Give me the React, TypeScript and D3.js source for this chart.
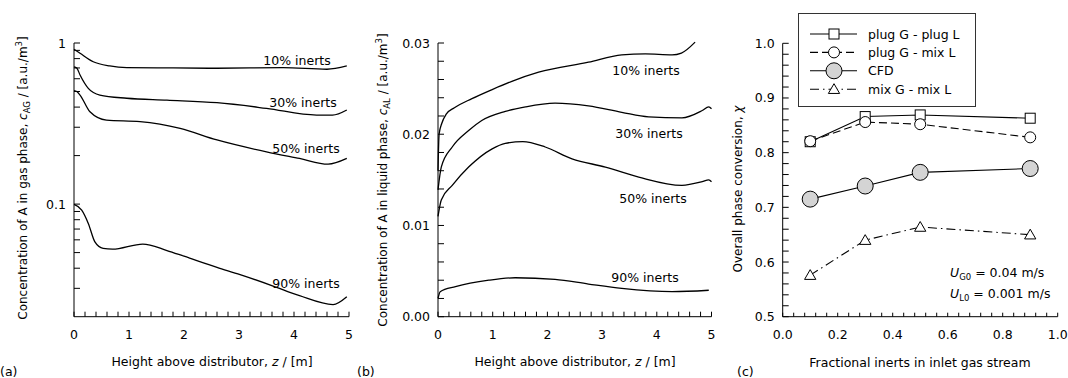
import React from 'react';
import * as d3 from 'd3';

// (a) gas phase concentration, log axis
const zGas10 = [0, 0.11, 0.35, 0.65, 0.96, 1.8, 2.6, 3.8, 4.6, 4.96];
const cGas10 = [0.914, 0.863, 0.765, 0.72, 0.703, 0.70, 0.697, 0.703, 0.687, 0.72];
const zGas30 = [0, 0.05, 0.11, 0.26, 0.47, 0.96, 1.69, 2.6, 3.5, 4.41, 4.7, 4.96];
const cGas30 = [0.712, 0.70, 0.633, 0.523, 0.475, 0.454, 0.442, 0.426, 0.393, 0.357, 0.357, 0.384];
const zGas50 = [0, 0.05, 0.11, 0.29, 0.59, 1.2, 1.93, 2.6, 3.5, 4.1, 4.62, 4.96];
const cGas50 = [0.506, 0.50, 0.475, 0.374, 0.332, 0.325, 0.295, 0.25, 0.211, 0.192, 0.177, 0.192];
const zGas90 = [0, 0.14, 0.26, 0.38, 0.53, 0.7, 1.25, 1.69, 2.0, 2.6, 3.02, 3.62, 4.1, 4.71, 4.96];
const cGas90 = [0.0995, 0.0918, 0.0759, 0.0583, 0.0531, 0.0525, 0.0565, 0.0515, 0.0475, 0.0405, 0.0365, 0.031, 0.027, 0.0238, 0.0266];

// (b) liquid phase concentration
const zLiq10 = [0, 0.02, 0.07, 0.15, 0.3, 0.62, 0.99, 1.35, 1.84, 2.75, 3.36, 3.79, 4.28, 4.45, 4.7];
const cLiq10 = [0.016, 0.020, 0.0212, 0.0222, 0.0229, 0.0239, 0.0249, 0.0258, 0.0268, 0.0279, 0.0287, 0.0288, 0.0287, 0.0289, 0.0301];
const zLiq30 = [0, 0.06, 0.26, 0.56, 0.8, 1.23, 1.6, 2.14, 2.75, 3.36, 3.85, 4.46, 4.83, 4.95, 5.0];
const cLiq30 = [0.0139, 0.0164, 0.0186, 0.0204, 0.0215, 0.0225, 0.023, 0.0234, 0.0231, 0.0224, 0.0219, 0.0218, 0.0226, 0.023, 0.0228];
const zLiq50 = [0, 0.06, 0.26, 0.56, 0.99, 1.23, 1.55, 1.96, 2.45, 3.06, 3.67, 4.46, 4.83, 4.95, 5.0];
const cLiq50 = [0.011, 0.0128, 0.0144, 0.0164, 0.0184, 0.019, 0.0192, 0.0186, 0.0173, 0.0164, 0.0153, 0.0144, 0.0148, 0.015, 0.0148];
const zLiq90 = [0, 0.04, 0.32, 0.93, 1.41, 2.14, 2.75, 3.36, 4.28, 4.95];
const cLiq90 = [0.002, 0.00274, 0.00329, 0.004, 0.00427, 0.0041, 0.00358, 0.0031, 0.00274, 0.0029];

// (c) overall conversion
const inerts = [0.1, 0.3, 0.5, 0.9];
const plugPlug = [0.820, 0.866, 0.869, 0.863];
const plugMix = [0.821, 0.856, 0.852, 0.828];
const cfd = [0.715, 0.739, 0.764, 0.771];
const mixMix = [0.576, 0.640, 0.664, 0.650];

const FONT = 'DejaVu Sans, sans-serif';
const FS = 12.5;

const zip = (xs: number[], ys: number[]) => xs.map((x, i) => [x, ys[i]] as [number, number]);

const range = (a: number, b: number, step: number) => {
  const out: number[] = [];
  const n = Math.round((b - a) / step);
  for (let i = 0; i <= n; i++) out.push(+(a + i * step).toFixed(6));
  return out;
};

function Axes({ x, y, xTicks, xLabels, yTicks, yLabels, xFmt, yFmt, xLen = 5, yLen = 6 }: any) {
  const [x0, x1] = x.range();
  const [y0, y1] = y.range();
  return (
    <g stroke="#000" strokeWidth={1} fill="none">
      <line x1={x0} x2={x1} y1={y0} y2={y0} />
      <line x1={x0} x2={x0} y1={y0} y2={y1} />
      {xTicks.map((t: number, i: number) => (
        <line key={'xt' + i} x1={x(t)} x2={x(t)} y1={y0} y2={y0 - xLen} />
      ))}
      {yTicks.map((t: number, i: number) => (
        <line key={'yt' + i} x1={x0} x2={x0 + yLen} y1={y(t)} y2={y(t)} />
      ))}
      {xLabels.map((t: number, i: number) => (
        <text key={'xl' + i} x={x(t)} y={339} textAnchor="middle" stroke="none" fill="#000"
          fontFamily={FONT} fontSize={FS}>{xFmt(t)}</text>
      ))}
      {yLabels.map((t: number, i: number) => (
        <text key={'yl' + i} x={x0 - 8} y={y(t) + 4.5} textAnchor="end" stroke="none" fill="#000"
          fontFamily={FONT} fontSize={FS}>{yFmt(t)}</text>
      ))}
    </g>
  );
}

const Label = ({ x, y, children }: any) => (
  <text x={x} y={y} textAnchor="middle" fontFamily={FONT} fontSize={FS} fill="#000">{children}</text>
);

export default function App() {
  // panel (a)
  const xa = d3.scaleLinear().domain([0, 5]).range([74, 349]);
  const ya = d3.scaleLog().domain([0.02, 1]).range([316.7, 43]);
  const lineA = d3.line<[number, number]>().x(d => xa(d[0])).y(d => ya(d[1])).curve(d3.curveMonotoneX);
  const minorLog = [0.9, 0.8, 0.7, 0.6, 0.5, 0.4, 0.3, 0.2, 0.09, 0.08, 0.07, 0.06, 0.05, 0.04, 0.03];

  // panel (b)
  const xb = d3.scaleLinear().domain([0, 5]).range([438, 711.5]);
  const yb = d3.scaleLinear().domain([0, 0.03]).range([316.7, 43]);
  const lineB = d3.line<[number, number]>().x(d => xb(d[0])).y(d => yb(d[1])).curve(d3.curveMonotoneX);

  // panel (c)
  const xc = d3.scaleLinear().domain([0, 1]).range([782.7, 1057.7]);
  const yc = d3.scaleLinear().domain([0.5, 1]).range([316.7, 43.3]);
  const lineC = d3.line<[number, number]>().x(d => xc(d[0])).y(d => yc(d[1]));
  const tri = d3.symbol(d3.symbolTriangle, 55)() as string;

  const legend = [
    { label: 'plug G - plug L', dash: undefined, marker: 'square' },
    { label: 'plug G - mix L', dash: '8,4', marker: 'circle' },
    { label: 'CFD', dash: undefined, marker: 'cfd' },
    { label: 'mix G - mix L', dash: '9,4,1.5,4', marker: 'triangle' },
  ];

  const marker = (kind: string, cx: number, cy: number, key: string) => {
    if (kind === 'square') return <rect key={key} x={cx - 5} y={cy - 5} width={10} height={10} fill="#fff" stroke="#000" />;
    if (kind === 'circle') return <circle key={key} cx={cx} cy={cy} r={5.5} fill="#fff" stroke="#000" />;
    if (kind === 'cfd') return <circle key={key} cx={cx} cy={cy} r={8} fill="#d4d4d4" stroke="#000" />;
    return <path key={key} d={tri} transform={`translate(${cx},${cy + 1})`} fill="#fff" stroke="#000" />;
  };

  const series = [
    { vals: plugPlug, dash: undefined, marker: 'square' },
    { vals: plugMix, dash: '8,4', marker: 'circle' },
    { vals: cfd, dash: undefined, marker: 'cfd' },
    { vals: mixMix, dash: '9,4,1.5,4', marker: 'triangle' },
  ];

  return (
    <svg width={1068} height={378} style={{ position: 'absolute', left: 0, top: 0, background: '#fff' }}>
      <rect width={1068} height={378} fill="#fff" />

      {/* (a) */}
      <Axes x={xa} y={ya} xTicks={range(0, 5, 0.2)} xLabels={[0, 1, 2, 3, 4, 5]}
        yTicks={[1, 0.1, ...minorLog]} yLabels={[1, 0.1]} xFmt={(t: number) => String(t)} yFmt={(t: number) => String(t)} />
      <g fill="none" stroke="#000" strokeWidth={1.3}>
        <path d={lineA(zip(zGas10, cGas10)) as string} />
        <path d={lineA(zip(zGas30, cGas30)) as string} />
        <path d={lineA(zip(zGas50, cGas50)) as string} />
        <path d={lineA(zip(zGas90, cGas90)) as string} />
      </g>
      <Label x={297} y={65}>10% inerts</Label>
      <Label x={303} y={107}>30% inerts</Label>
      <Label x={306} y={153}>50% inerts</Label>
      <Label x={306} y={288}>90% inerts</Label>
      <Label x={212} y={366}>Height above distributor, <tspan fontStyle="italic">z</tspan> / [m]</Label>
      <text x={0} y={376} fontFamily={FONT} fontSize={FS}>(a)</text>
      <text transform="translate(27,178) rotate(-90)" textAnchor="middle" fontFamily={FONT} fontSize={12}>
        Concentration of A in gas phase, <tspan fontStyle="italic">c</tspan><tspan fontSize={8.5} dy={3}>AG</tspan><tspan dy={-3}> / [a.u./m</tspan><tspan fontSize={8.5} dy={-5}>3</tspan><tspan dy={5}>]</tspan>
      </text>

      {/* (b) */}
      <Axes x={xb} y={yb} xTicks={range(0, 5, 0.2)} xLabels={[0, 1, 2, 3, 4, 5]}
        yTicks={range(0, 0.03, 0.002)} yLabels={[0, 0.01, 0.02, 0.03]}
        xFmt={(t: number) => String(t)} yFmt={(t: number) => t.toFixed(2)} />
      <g fill="none" stroke="#000" strokeWidth={1.3}>
        <path d={lineB(zip(zLiq10, cLiq10)) as string} />
        <path d={lineB(zip(zLiq30, cLiq30)) as string} />
        <path d={lineB(zip(zLiq50, cLiq50)) as string} />
        <path d={lineB(zip(zLiq90, cLiq90)) as string} />
      </g>
      <Label x={646} y={75}>10% inerts</Label>
      <Label x={649} y={138}>30% inerts</Label>
      <Label x={653} y={203}>50% inerts</Label>
      <Label x={645} y={282}>90% inerts</Label>
      <Label x={575} y={366}>Height above distributor, <tspan fontStyle="italic">z</tspan> / [m]</Label>
      <text x={357} y={376} fontFamily={FONT} fontSize={FS}>(b)</text>
      <text transform="translate(387,180) rotate(-90)" textAnchor="middle" fontFamily={FONT} fontSize={12}>
        Concentration of A in liquid phase, <tspan fontStyle="italic">c</tspan><tspan fontSize={8.5} dy={3}>AL</tspan><tspan dy={-3}> / [a.u./m</tspan><tspan fontSize={8.5} dy={-5}>3</tspan><tspan dy={5}>]</tspan>
      </text>

      {/* (c) */}
      <Axes x={xc} y={yc} xTicks={range(0, 1, 0.04)} xLabels={range(0, 1, 0.2)}
        yTicks={range(0.5, 1, 0.02)} yLabels={range(0.5, 1, 0.1)}
        xFmt={(t: number) => t.toFixed(1)} yFmt={(t: number) => t.toFixed(1)} xLen={4} />
      {series.map((s, i) => (
        <g key={'s' + i}>
          <path d={lineC(zip(inerts, s.vals)) as string} fill="none" stroke="#000" strokeWidth={1.1}
            strokeDasharray={s.dash} />
          {inerts.map((f, j) => marker(s.marker, xc(f), yc(s.vals[j]), `m${i}-${j}`))}
        </g>
      ))}
      <rect x={798.5} y={13.5} width={177} height={93} fill="#fff" stroke="#333" strokeWidth={1} />
      {legend.map((l, i) => {
        const cy = 34 + i * 18.4;
        return (
          <g key={'lg' + i}>
            <line x1={810} x2={857} y1={cy} y2={cy} stroke="#000" strokeWidth={1.1} strokeDasharray={l.dash} />
            {marker(l.marker, 834, cy, 'lm' + i)}
            <text x={868} y={cy + 4.5} fontFamily={FONT} fontSize={FS}>{l.label}</text>
          </g>
        );
      })}
      <text x={950} y={277} fontFamily={FONT} fontSize={FS}>
        <tspan fontStyle="italic">U</tspan><tspan fontSize={8.5} dy={3}>G0</tspan><tspan dy={-3}> = 0.04 m/s</tspan>
      </text>
      <text x={950} y={298} fontFamily={FONT} fontSize={FS}>
        <tspan fontStyle="italic">U</tspan><tspan fontSize={8.5} dy={3}>L0</tspan><tspan dy={-3}> = 0.001 m/s</tspan>
      </text>
      <Label x={920} y={367}>Fractional inerts in inlet gas stream</Label>
      <text x={737} y={376} fontFamily={FONT} fontSize={FS}>(c)</text>
      <text transform="translate(742,189) rotate(-90)" textAnchor="middle" fontFamily={FONT} fontSize={12}>
        Overall phase conversion, <tspan fontStyle="italic">χ</tspan>
      </text>
    </svg>
  );
}
